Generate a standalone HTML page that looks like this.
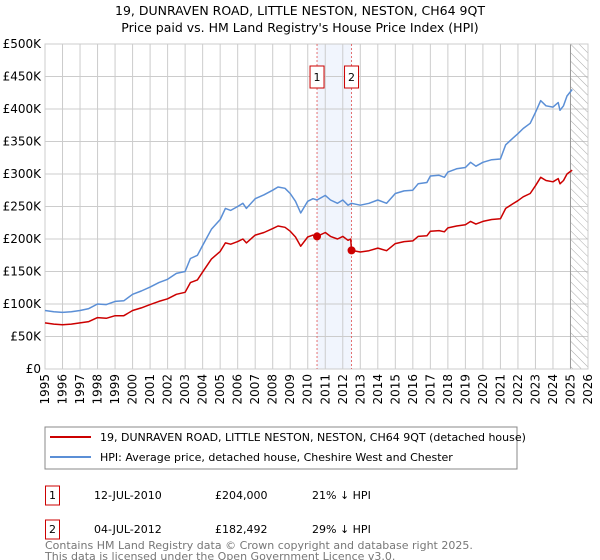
<!DOCTYPE html>
<html><head><meta charset="utf-8"><style>
body{margin:0;width:600px;height:560px;background:#fff;font-family:"DejaVu Sans","Liberation Sans",sans-serif;overflow:hidden}
svg{display:block}
</style></head><body>
<svg width="600" height="560" id="c" font-family="DejaVu Sans, Liberation Sans, sans-serif">
<text x="300" y="15" text-anchor="middle" font-size="12.5">19, DUNRAVEN ROAD, LITTLE NESTON, NESTON, CH64 9QT</text>
<text x="300" y="32" text-anchor="middle" font-size="12.5">Price paid vs. HM Land Registry's House Price Index (HPI)</text>
<g id="plot"></g>
<rect x="45" y="427" width="472" height="42" fill="#fff" stroke="#888"/>
<line x1="50" y1="437" x2="91" y2="437" stroke="#cc0000" stroke-width="2"/>
<text x="100" y="441" font-size="11">19, DUNRAVEN ROAD, LITTLE NESTON, NESTON, CH64 9QT (detached house)</text>
<line x1="50" y1="457" x2="91" y2="457" stroke="#5b8fd6" stroke-width="2"/>
<text x="100" y="461" font-size="11">HPI: Average price, detached house, Cheshire West and Chester</text>
<g font-size="11">
<rect x="45.5" y="486" width="14" height="19" fill="none" stroke="#cc0000"/>
<text x="52.5" y="499" text-anchor="middle">1</text>
<text x="94" y="499">12-JUL-2010</text><text x="215" y="499">£204,000</text><text x="312" y="499">21% ↓ HPI</text>
<rect x="45.5" y="520" width="14" height="19" fill="none" stroke="#cc0000"/>
<text x="52.5" y="533" text-anchor="middle">2</text>
<text x="94" y="533">04-JUL-2012</text><text x="215" y="533">£182,492</text><text x="312" y="533">29% ↓ HPI</text>
</g>
<text x="45" y="549" font-size="11" fill="#777">Contains HM Land Registry data © Crown copyright and database right 2025.</text>
<text x="45" y="560" font-size="11" fill="#777">This data is licensed under the Open Government Licence v3.0.</text>
</svg>
<script>
const hpiYears=[1995,1995.5,1996,1996.5,1997,1997.5,1998,1998.5,1999,1999.5,2000,2000.5,2001,2001.5,2002,2002.5,2003,2003.3,2003.7,2004,2004.5,2005,2005.3,2005.6,2006,2006.3,2006.5,2007,2007.5,2008,2008.3,2008.7,2009,2009.3,2009.6,2010,2010.3,2010.53,2011,2011.3,2011.7,2012,2012.3,2012.5,2013,2013.5,2014,2014.5,2015,2015.5,2016,2016.3,2016.8,2017,2017.5,2017.8,2018,2018.5,2019,2019.3,2019.6,2020,2020.5,2021,2021.3,2021.7,2022,2022.3,2022.7,2023,2023.3,2023.6,2024,2024.3,2024.4,2024.6,2024.8,2025.1];
const hpiValues=[90,88,87,88,90,93,100,99,104,105,115,120,126,133,138,147,150,170,175,190,215,230,247,244,250,255,247,262,268,275,280,278,270,258,240,258,262,260,267,260,255,260,252,255,252,255,260,255,270,274,275,285,287,297,298,295,303,308,310,318,312,318,322,323,345,355,362,370,378,395,413,405,403,410,398,405,420,430];
const priceYears=[1995,1995.5,1996,1996.5,1997,1997.5,1998,1998.5,1999,1999.5,2000,2000.5,2001,2001.5,2002,2002.5,2003,2003.3,2003.7,2004,2004.5,2005,2005.3,2005.6,2006,2006.3,2006.5,2007,2007.5,2008,2008.3,2008.7,2009,2009.3,2009.6,2010,2010.3,2010.53,2011,2011.3,2011.7,2012,2012.3,2012.45,2012.5,2013,2013.5,2014,2014.5,2015,2015.5,2016,2016.3,2016.8,2017,2017.5,2017.8,2018,2018.5,2019,2019.3,2019.6,2020,2020.5,2021,2021.3,2021.7,2022,2022.3,2022.7,2023,2023.3,2023.6,2024,2024.3,2024.4,2024.6,2024.8,2025.1];
const priceValues=[71,69,68,69,71,73,79,78,82,82,90,94,99,104,108,115,118,133,137,149,169,181,194,192,196,200,194,206,210,216,220,218,212,203,189,203,206,204,210,204,200,204,198,200,182.5,180,182,186,182,193,196,197,204,205,212,213,211,217,220,222,227,223,227,230,231,247,254,259,265,270,282,295,290,288,293,285,290,300,306];
const saleYears=[2010.53,2012.5];
const saleValues=[204,182.492];
const saleLabels=["1","2"];
const yTicks=[0,50,100,150,200,250,300,350,400,450,500];
const yTickLabels=["£0","£50K","£100K","£150K","£200K","£250K","£300K","£350K","£400K","£450K","£500K"];
const xTicks=[1995,1996,1997,1998,1999,2000,2001,2002,2003,2004,2005,2006,2007,2008,2009,2010,2011,2012,2013,2014,2015,2016,2017,2018,2019,2020,2021,2022,2023,2024,2025,2026];

const L=45,R=588,T=44,B=369;
const X=y=>L+(y-1995)/(2026-1995)*(R-L);
const Y=v=>B-v/500*(B-T);
const NS="http://www.w3.org/2000/svg";
const g=document.getElementById('plot');
function mk(t,a,p){const e=document.createElementNS(NS,t);for(const k in a)e.setAttribute(k,a[k]);(p||g).appendChild(e);return e;}
let e;
e=mk('rect',{x:X(saleYears[0]),y:T,width:X(saleYears[1])-X(saleYears[0]),height:B-T,fill:'#eef3fc',opacity:0.8});


yTicks.forEach((v,i)=>{
 e=mk('line',{x1:L,x2:R,y1:Y(v),y2:Y(v),stroke:'#ccc'});
 
 
 e=mk('text',{x:L-4,y:Y(v)+4,'text-anchor':'end','font-size':12});
 e.textContent=yTickLabels[i];
 
 
});
xTicks.forEach(y=>{
 e=mk('line',{x1:X(y),x2:X(y),y1:T,y2:B,stroke:'#ccc'});
 
 
 e=mk('text',{x:0,y:0,'text-anchor':'end','font-size':12,transform:`translate(${X(y)+4},${B+5}) rotate(-90)`});
 e.textContent=y;
 
 
});
const defs=mk('defs',{});
const pat=mk('pattern',{id:'hatch',width:6,height:6,patternUnits:'userSpaceOnUse',patternTransform:'rotate(-45)'},defs);
mk('line',{x1:0,y1:0,x2:0,y2:6,stroke:'#aaa','stroke-width':1},pat);
e=mk('rect',{x:X(2025),y:T,width:R-X(2025),height:B-T,fill:'url(#hatch)'});


e=mk('line',{x1:X(2025),x2:X(2025),y1:T,y2:B,stroke:'#999'});


mk('rect',{x:L,y:T,width:R-L,height:B-T,fill:'none',stroke:'#ccc'});
saleYears.forEach((y,i)=>{
 e=mk('line',{x1:X(y),x2:X(y),y1:T,y2:B,stroke:'#e05050','stroke-dasharray':'2,2','stroke-width':0.8});
 
 
 e=mk('rect',{x:X(y)-7,y:66,width:14,height:22,fill:'#fff',stroke:'#cc0000'});
 
 
 e=mk('text',{x:X(y),y:81,'text-anchor':'middle','font-size':11});
 e.textContent=saleLabels[i];
 
 
});
function line(xs,vs,col,name){
 e=mk('polyline',{points:xs.map((x,i)=>X(x).toFixed(1)+','+Y(vs[i]).toFixed(1)).join(' '),fill:'none',stroke:col,'stroke-width':1.5,'stroke-linejoin':'round'});
 
 
}
line(hpiYears,hpiValues,'#5b8fd6','hpi-line');
line(priceYears,priceValues,'#cc0000','price-line');
saleYears.forEach((y,i)=>{
 e=mk('circle',{cx:X(y),cy:Y(saleValues[i]),r:4,fill:'#cc0000'});
 
 
});
</script>
</body></html>
